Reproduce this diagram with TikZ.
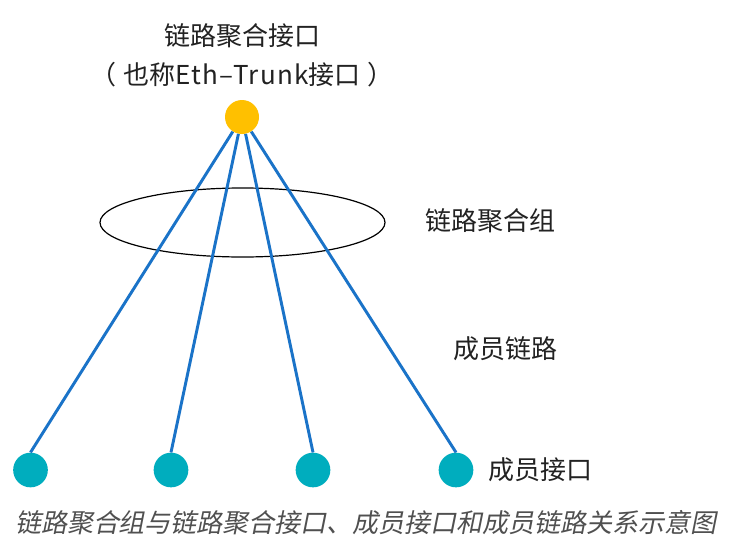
\documentclass[tikz,border=0pt]{standalone}
\usepackage{fontspec}
\setmainfont{Noto Sans CJK SC}
\newfontfamily\capfont[FakeSlant=0.2]{Noto Sans CJK SC}
\newfontfamily\widelatin[LetterSpace=5]{Noto Sans CJK SC}
\usetikzlibrary{shapes.geometric}
\definecolor{aggorange}{RGB}{255,192,0}
\definecolor{memteal}{RGB}{0,173,190}
\definecolor{linkblue}{RGB}{26,115,200}
\definecolor{txtdark}{RGB}{34,34,34}
\definecolor{captxt}{RGB}{80,80,80}
\begin{document}
\begin{tikzpicture}[x=0.75pt,y=-0.75pt,
  lbl/.style={inner sep=0pt,text=txtdark,font=\fontsize{19.5pt}{24pt}\selectfont},
  aggport/.style={circle,fill=aggorange,minimum size=25.5pt,inner sep=0pt},
  memport/.style={circle,fill=memteal,minimum size=26pt,inner sep=0pt},
  memlink/.style={draw=linkblue,line width=2.2pt},
  groupring/.style={draw=black,line width=0.9pt}]
\useasboundingbox (0,0) rectangle (742,546);
\fill[white] (0,0) rectangle (742,546);
% labels
\node[lbl] (t1) at (242,36) {链路聚合接口};
\node[lbl] (t2) at (242,75) {（\hspace{5pt}也称{\widelatin Eth–Trunk}接口\hspace{5pt}）};
\node[lbl,anchor=west] (lg) at (425,221) {链路聚合组};
\node[lbl,anchor=west] (ll) at (453,349) {成员链路};
\node[lbl,anchor=west] (lp) at (488,470) {成员接口};
\node[inner sep=0pt,text=captxt,font=\capfont\fontsize{19.5pt}{24pt}\selectfont] (cap) at (366,523) {链路聚合组与链路聚合接口、成员接口和成员链路关系示意图};
% group ellipse
\node[groupring,ellipse,minimum width=213.75pt,minimum height=51.75pt,inner sep=0pt] (grp) at (242.5,222.5) {};
% ports
\node[aggport] (agg) at (242,117) {};
\node[memport] (m1) at (30.5,470) {};
\node[memport] (m2) at (171,470) {};
\node[memport] (m3) at (313,470) {};
\node[memport] (m4) at (456,470) {};
% links
\draw[memlink] (agg) -- (m1.north);
\draw[memlink] (agg) -- (m2.north);
\draw[memlink] (agg) -- (m3.north);
\draw[memlink] (agg) -- (m4.north);
\end{tikzpicture}
\end{document}
